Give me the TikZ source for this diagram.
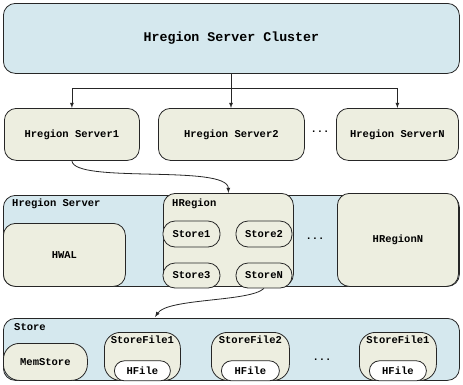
\documentclass[tikz,border=0pt]{standalone}
\usepackage{fontspec}
\setmainfont{Liberation Mono}
\usepackage{tikz}
\usepackage{xcolor}
\definecolor{clusterblue}{RGB}{213,232,238}
\definecolor{boxbeige}{RGB}{237,238,224}
\tikzset{
    outer-box/.style = {draw=black!85, fill=clusterblue, line width=0.8pt, rectangle, rounded corners=12pt, anchor=north west, inner sep=0pt},
    inner-box/.style = {draw=black!85, fill=boxbeige, line width=0.8pt, rectangle, rounded corners=12pt, anchor=north west, inner sep=0pt},
    pill-box/.style = {draw=black!85, fill=boxbeige, line width=0.8pt, rectangle, rounded corners=12pt, inner sep=0pt, font=\bfseries\fontsize{10.5}{12}\selectfont},
    file-box/.style = {draw=black!85, fill=white, line width=0.8pt, rectangle, rounded corners=10pt, inner sep=0pt, font=\bfseries\fontsize{10.5}{12}\selectfont},
    box-text/.style = {font=\bfseries\fontsize{10.5}{12}\selectfont},
    box-title/.style = {font=\bfseries\fontsize{10.5}{12}\selectfont, anchor=west, inner sep=0pt},
    link/.style = {draw=black!85, line width=0.8pt, -latex},
}

\begin{document}
\begin{tikzpicture}[x=1pt, y=-1pt]
\useasboundingbox (0,0) rectangle (463,384);

% cluster on top
\node [outer-box, minimum width=456pt, minimum height=70pt] (cluster) at (3,3) {};
\node [font=\bfseries\fontsize{13.3}{15}\selectfont] (cluster-label) at (cluster.center) {Hregion Server Cluster};

% region servers
\node [inner-box, minimum width=135pt, minimum height=52pt] (server1) at (4,108) {};
\node [box-text] at (server1.center) {Hregion Server1};
\node [inner-box, minimum width=146pt, minimum height=52pt] (server2) at (158,108) {};
\node [box-text] at (server2.center) {Hregion Server2};
\node [inner-box, minimum width=122pt, minimum height=52pt] (serverN) at (336,108) {};
\node [box-text] at (serverN.center) {Hregion ServerN};
\node [box-text] (dots1) at (320,132) {...};

\coordinate (split) at (231,88);
\draw [draw=black!85, line width=0.8pt] (cluster.south -| split) -- (split);
\draw [draw=black!85, line width=0.8pt] (split -| server1.north) -- (split -| serverN.north);
\draw [link] (split) -- (split |- server2.north);
\draw [link] (split -| server1.north) -- (server1.north);
\draw [link] (split -| serverN.north) -- (serverN.north);

% one region server
\node [outer-box, minimum width=456pt, minimum height=91pt] (server) at (3,195) {};
\node [box-title] at (12,204) {Hregion Server};
\node [inner-box, minimum width=122pt, minimum height=63pt] (hwal) at (3,223) {};
\node [box-text] at (hwal.center) {HWAL};
\node [inner-box, minimum width=130pt, minimum height=93pt] (hregion) at (163,193) {};
\node [box-title] at (172,204) {HRegion};
\node [pill-box, minimum width=57pt, minimum height=26pt] (store1) at (191.5,234) {Store1};
\node [pill-box, minimum width=56pt, minimum height=26pt] (store2) at (264,234) {Store2};
\node [pill-box, minimum width=57pt, minimum height=25pt] (store3) at (191.5,275.5) {Store3};
\node [pill-box, minimum width=56pt, minimum height=25pt] (storeN) at (264,275.5) {StoreN};
\node [box-text] (dots2) at (315,239) {...};
\node [inner-box, minimum width=121pt, minimum height=93pt] (hregionN) at (337,193) {};
\node [box-text] at (hregionN.center) {HRegionN};

\draw [link] (server1.south) .. controls (74,184) and (228,164) .. (hregion.north);

% one store
\node [outer-box, minimum width=456pt, minimum height=62pt] (store) at (3,318) {};
\node [box-title] at (14,327) {Store};
\node [inner-box, minimum width=84pt, minimum height=37pt, rounded corners=16pt] (memstore) at (3,343) {};
\node [box-text] at (memstore.center) {MemStore};
\foreach \name/\x/\w/\filename in {file1/104/76/StoreFile1, file2/211/78/StoreFile2, fileN/359/77/StoreFile1} {
    \node [inner-box, minimum width=\w pt, minimum height=48pt, rounded corners=16pt] (\name) at (\x,332) {};
    \node [box-text, anchor=north, inner sep=0pt] at ([yshift=-4pt]\name.north) {\filename};
    \node [file-box, minimum width=\w pt-20pt, minimum height=20pt] (\name-hfile) at ([yshift=10pt]\name.south) {HFile};
}
\node [box-text] (dots3) at (322,360) {...};

\coordinate (store-in) at (155,317);
\draw [link] (storeN.south) .. controls (250,302) and (168,298) .. (store-in);
\end{tikzpicture}
\end{document}
